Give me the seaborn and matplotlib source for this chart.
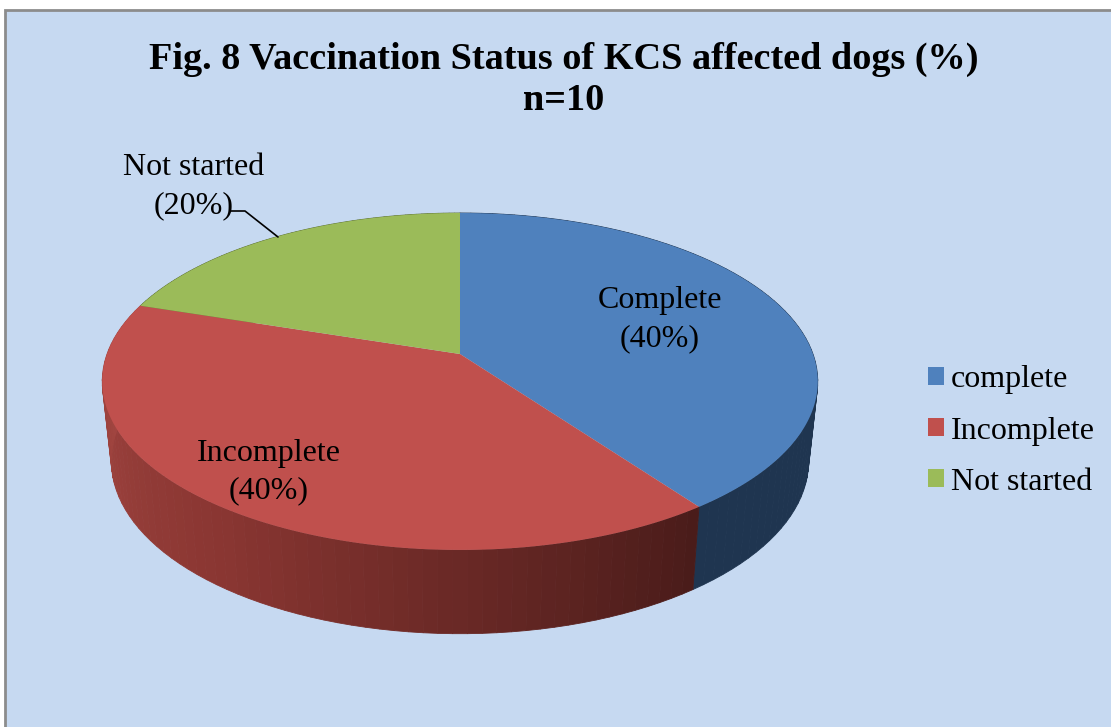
import numpy as np
import matplotlib
matplotlib.use('Agg')
import matplotlib.pyplot as plt
from matplotlib.patches import Patch, Rectangle
import seaborn as sns

# pie data
names = ['complete', 'Incomplete', 'Not started']
shares = [40, 40, 20]
slice_labels = ['Complete\n(40%)', 'Incomplete\n(40%)', 'Not started\n(20%)']
title = 'Fig. 8 Vaccination Status of KCS affected dogs (%)\nn=10'

top_cols = ['#4F81BD', '#C0504D', '#9BBB59']
wall_cols = [['#1F3550', '#1F3550'], ['#4A1C1A', '#8A3632', '#A84A45'], ['#5E7136', '#5E7136']]

sns.set_style('white')
plt.rcParams['font.family'] = ['Liberation Serif', 'DejaVu Serif']
plt.rcParams['text.color'] = 'black'

# perspective of the top and bottom disc, in picture pixels
persp = 0.163


def disc(ang, cy, rx, ry, cx=460):
    # ang is clockwise from 12 o'clock
    x = np.sin(ang)
    y = np.cos(ang)
    d = 1 + persp * y
    return cx + rx * x / d, cy - ry * y / d


fig = plt.figure(figsize=(11.11, 7.27), dpi=100, facecolor='white')
ax = fig.add_axes([0, 0, 1, 1])
ax.set_xlim(0, 1111)
ax.set_ylim(727, 0)
ax.axis('off')
ax.add_patch(Rectangle((5, 10), 1120, 730, fc='#C6D9F1', ec='#8C8C8C', lw=2))

ends = np.cumsum(shares) / np.sum(shares) * 2 * np.pi
starts = np.r_[0, ends[:-1]]

# walls first, the top disc covers whatever is behind
for i in [2, 0, 1]:
    steps = np.linspace(starts[i], ends[i], 71)
    pal = sns.blend_palette(wall_cols[i], n_colors=70)
    for k in range(70):
        a = steps[k:k + 2]
        x1, y1 = disc(a, 354, 353, 164)
        x2, y2 = disc(a, 433, 344, 168)
        ax.fill(np.r_[x1, x2[::-1]], np.r_[y1, y2[::-1]], color=pal[k], lw=0.6, zorder=2)

for i in range(3):
    a = np.linspace(starts[i], ends[i], 200)
    x, y = disc(a, 354, 353, 164)
    ax.fill(np.r_[460, x], np.r_[354, y], color=top_cols[i], lw=0, zorder=3)

ax.text(563.5, 80, title, ha='center', va='center', fontsize=27.5, fontweight='bold',
        linespacing=1.25, zorder=5)

lab_pos = [(660, 319.5), (269, 472), (194, 186.5)]
for lab, pos in zip(slice_labels, lab_pos):
    ax.text(pos[0], pos[1], lab, ha='center', va='center', fontsize=23,
            linespacing=1.39, zorder=5)

# leader for the small slice
ax.plot([231, 245, 278], [211, 211, 237], color='black', lw=1.2, zorder=4)

handles = [Patch(fc=c, ec='none') for c in top_cols]
ax.legend(handles, names, loc='center left', bbox_to_anchor=(928, 431),
          bbox_transform=ax.transData, frameon=False, fontsize=23, borderpad=0,
          borderaxespad=0, handlelength=0.5, handleheight=0.5, handletextpad=0.22,
          labelspacing=0.69, labelcolor='black')

fig.savefig('out.png', dpi=100)
